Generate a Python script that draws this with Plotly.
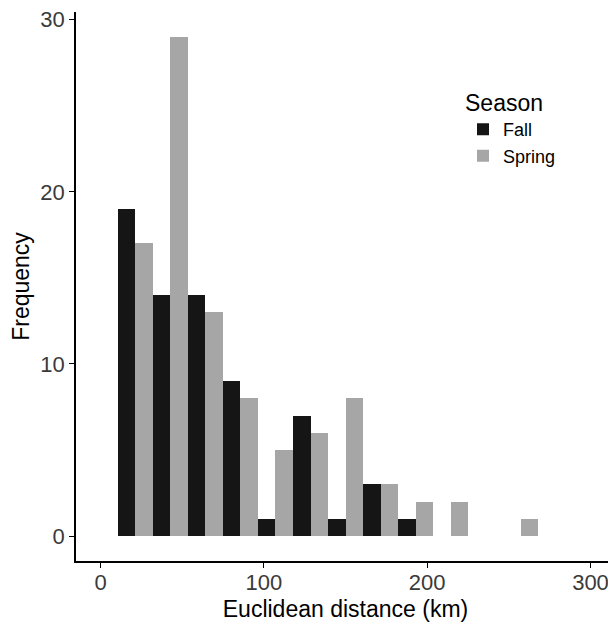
import plotly.graph_objects as go

# Bin centres (km) of the histogram
bin_centers = [21.3, 42.8, 64.2, 85.7, 107.1, 128.6, 150.0, 171.5, 192.9, 214.4, 235.8, 257.3]
fall_counts = [19, 14, 14, 9, 1, 7, 1, 3, 1, 0, 0, 0]
spring_counts = [17, 29, 13, 8, 5, 6, 8, 3, 2, 2, 0, 1]

x_ticks = [0, 100, 200, 300]
y_ticks = [0, 10, 20, 30]

FONT = "Liberation Sans, Arial, Helvetica, sans-serif"

fig = go.Figure()
fig.add_trace(go.Bar(x=bin_centers, y=fall_counts, name="Fall",
                     marker=dict(color="#151515", line=dict(width=0))))
fig.add_trace(go.Bar(x=bin_centers, y=spring_counts, name="Spring",
                     marker=dict(color="#a6a6a6", line=dict(width=0))))

# the page body adds an 8px margin around the figure
fig.update_layout(
    width=608, height=614,
    barmode="group", bargap=0, bargroupgap=0,
    plot_bgcolor="white", paper_bgcolor="white",
    margin=dict(l=68, r=1, t=4, b=61, autoexpand=False),
    font=dict(family=FONT, color="black"),
    legend=dict(
        title=dict(text="Season", font=dict(size=23, color="black")),
        font=dict(size=18, color="black"),
        x=0.718, y=0.874, xanchor="left", yanchor="top",
        bgcolor="rgba(0,0,0,0)", tracegroupgap=0, itemwidth=30,
    ),
    xaxis=dict(
        range=[-15, 315], tickvals=x_ticks, ticks="outside", ticklen=5,
        tickwidth=1.3, tickcolor="black", showline=True, linecolor="black",
        linewidth=1.5, showgrid=False, zeroline=False, automargin=False,
        tickfont=dict(size=22, color="#3a3a3a"), ticklabelstandoff=-4,
        ticklabeloverflow="allow",
        title=dict(text="Euclidean distance (km)", font=dict(size=23, color="black"), standoff=12),
    ),
    yaxis=dict(
        range=[-1.45, 30.45], tickvals=y_ticks, ticks="outside", ticklen=5,
        tickwidth=1.3, tickcolor="black", showline=True, linecolor="black",
        linewidth=1.5, showgrid=False, zeroline=False, automargin=False,
        tickfont=dict(size=22, color="#3a3a3a"), ticklabeloverflow="allow",
        title=dict(text="Frequency", font=dict(size=23, color="black"), standoff=6),
    ),
)

fig.write_html("out.html")
